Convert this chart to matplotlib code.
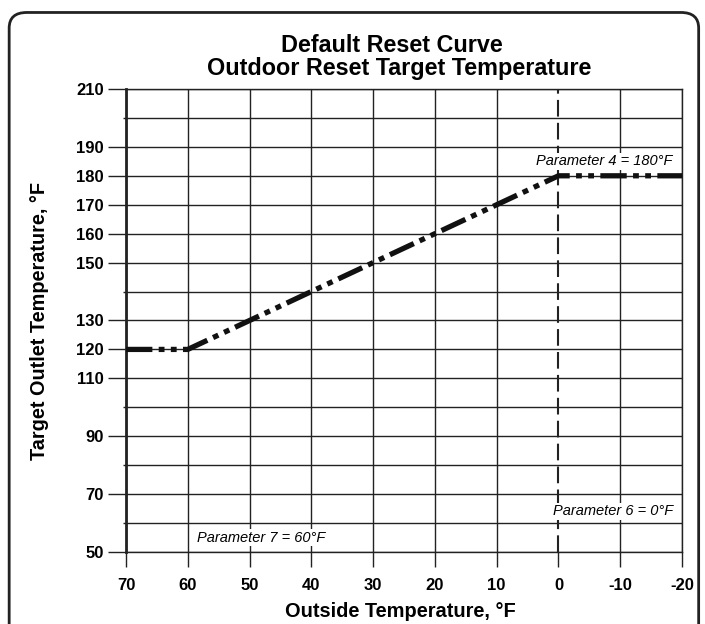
import matplotlib.pyplot as plt
from matplotlib.patches import FancyBboxPatch

# curve data
outdoor = [70, 60, 0, -20]
target = [120, 120, 180, 180]

x_ticks = [70, 60, 50, 40, 30, 20, 10, 0, -10, -20]
y_labeled = [50, 70, 90, 110, 120, 130, 150, 160, 170, 180, 190, 210]
y_unlabeled = [60, 80, 100, 140, 200]

plt.rcParams['font.family'] = ['Liberation Sans', 'DejaVu Sans']


def main():
    fig = plt.figure(figsize=(7.05, 6.24), dpi=100)
    frame = FancyBboxPatch((0.013, -0.05), 0.978, 1.03, boxstyle='round,pad=0,rounding_size=0.025',
                           transform=fig.transFigure, fill=False, lw=2, ec='#222222')
    fig.patches.append(frame)

    ax = fig.add_axes([0.1787, 0.1154, 0.9674 - 0.1787, 0.8574 - 0.1154])
    ax.set_xlim(70, -20)
    ax.set_ylim(50, 210)

    # grid
    for y in y_labeled + y_unlabeled:
        ax.axhline(y, color='#222222', lw=1, zorder=1)
    for x in x_ticks:
        if x == 0:
            ax.axvline(x, color='#222222', lw=1.5, ls=(0, (8, 3)), zorder=1)
        else:
            ax.axvline(x, color='#222222', lw=1, zorder=1)

    ax.plot(outdoor, target, color='#111111', lw=3.8,
            ls=(0, (5, 1.2, 1.1, 1.2, 1.1, 1.2)), solid_capstyle='butt', zorder=3)

    ax.set_xticks(x_ticks)
    ax.set_xticklabels([str(v) for v in x_ticks])
    ax.set_yticks(y_labeled)
    ax.set_yticklabels([str(v) for v in y_labeled])
    ax.set_yticks(y_unlabeled, minor=True)
    ax.tick_params(axis='y', which='major', length=13, width=1, pad=3, labelsize=12, color='#222222')
    ax.tick_params(axis='y', which='minor', length=2, width=1, color='#222222')
    ax.tick_params(axis='x', length=11, width=1, pad=8, labelsize=12, color='#222222')
    for lab in ax.get_xticklabels() + ax.get_yticklabels():
        lab.set_fontweight('bold')

    for s in ['top', 'bottom', 'right']:
        ax.spines[s].set_linewidth(1)
        ax.spines[s].set_color('#222222')
    ax.spines['left'].set_linewidth(2)
    ax.spines['left'].set_color('#222222')

    ax.set_xlabel('Outside Temperature, °F', fontsize=14.4, fontweight='bold', va='center')
    ax.xaxis.set_label_coords((400 - 126) / 556, (552 - 612) / 463)
    ax.set_ylabel('Target Outlet Temperature, °F', fontsize=14.3, fontweight='bold', va='center')
    ax.yaxis.set_label_coords((40 - 126) / 556, (552 - 321) / 463)

    fig.text(392 / 705, 1 - 45 / 624, 'Default Reset Curve',
             ha='center', va='center', fontsize=16.8, fontweight='bold')
    fig.text(399 / 705, 1 - 69 / 624, 'Outdoor Reset Target Temperature',
             ha='center', va='center', fontsize=16.8, fontweight='bold')

    box = dict(facecolor='white', edgecolor='none', pad=1)
    ax.text(-18.5, 185, 'Parameter 4 = 180°F', ha='right', va='center',
            fontsize=10.5, style='italic', bbox=box, zorder=4)
    ax.text(-18.5, 64, 'Parameter 6 = 0°F', ha='right', va='center',
            fontsize=10.5, style='italic', bbox=box, zorder=4)
    ax.text(58.5, 55, 'Parameter 7 = 60°F', ha='left', va='center',
            fontsize=10.5, style='italic', bbox=box, zorder=4)

    fig.savefig('out.png', dpi=100)


if __name__ == '__main__':
    main()
